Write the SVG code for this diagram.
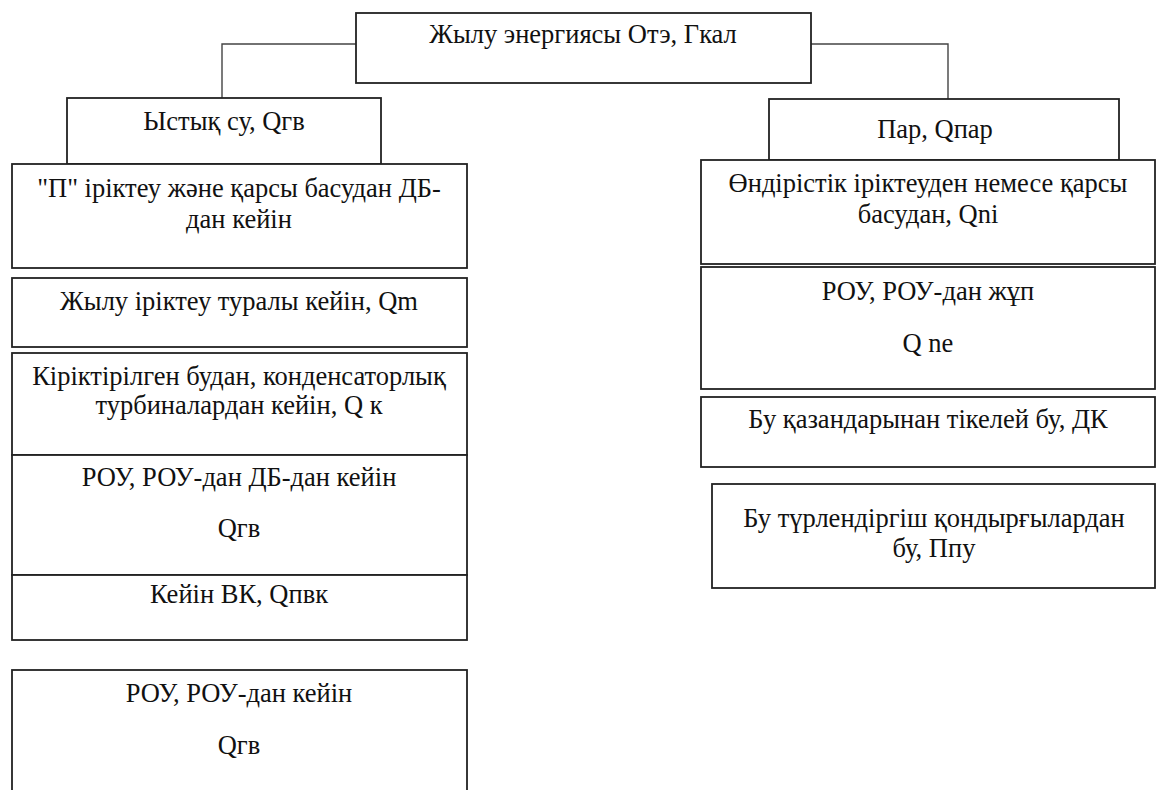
<svg xmlns="http://www.w3.org/2000/svg" width="1156" height="790" viewBox="0 0 1156 790">
<style>
.box{fill:#fff;stroke:#222;stroke-width:1.8}
.t{font-family:"Liberation Serif","Times New Roman",serif;font-size:26.5px;fill:#111;text-anchor:middle}
.c{fill:none;stroke:#444;stroke-width:1.4}
</style>
<rect width="1156" height="790" fill="#fff"/>
<g id="connectors">
<polyline class="c" points="356,44 222,44 222,98"/>
<polyline class="c" points="811,44 948,44 948,99"/>
</g>
<g id="root"><rect class="box" x="356" y="13" width="455" height="70"/><text class="t" x="583" y="43">Жылу энергиясы Отэ, Гкал</text></g>
<g id="hot-water"><rect class="box" x="67" y="98" width="314" height="66"/><text class="t" x="224" y="130">Ыстық су, Qгв</text></g>
<g id="steam"><rect class="box" x="769" y="99" width="350" height="61"/><text class="t" x="935" y="138">Пар, Qпар</text></g>
<g id="hw1"><rect class="box" x="12" y="164" width="455" height="104"/><text class="t" x="239" y="197">"П" іріктеу және қарсы басудан ДБ-</text><text class="t" x="239" y="228">дан кейін</text></g>
<g id="hw2"><rect class="box" x="12" y="278" width="455" height="69"/><text class="t" x="239" y="310">Жылу іріктеу туралы кейін, Qm</text></g>
<g id="hw3"><rect class="box" x="12" y="353" width="455" height="102"/><text class="t" x="239" y="385">Кіріктірілген будан, конденсаторлық</text><text class="t" x="239" y="414">турбиналардан кейін, Q к</text></g>
<g id="hw4"><rect class="box" x="12" y="455" width="455" height="120"/><text class="t" x="239" y="486">РОУ, РОУ-дан ДБ-дан кейін</text><text class="t" x="239" y="537">Qгв</text></g>
<g id="hw5"><rect class="box" x="12" y="575" width="455" height="65"/><text class="t" x="239" y="603">Кейін ВК, Qпвк</text></g>
<g id="hw6"><rect class="box" x="12" y="670" width="455" height="130"/><text class="t" x="239" y="702">РОУ, РОУ-дан кейін</text><text class="t" x="239" y="754">Qгв</text></g>
<g id="st1"><rect class="box" x="701" y="160" width="454" height="104"/><text class="t" x="928" y="192">Өндірістік іріктеуден немесе қарсы</text><text class="t" x="928" y="223">басудан, Qni</text></g>
<g id="st2"><rect class="box" x="701" y="267" width="454" height="122"/><text class="t" x="928" y="300">РОУ, РОУ-дан жұп</text><text class="t" x="928" y="352">Q ne</text></g>
<g id="st3"><rect class="box" x="701" y="397" width="454" height="70"/><text class="t" x="928" y="428">Бу қазандарынан тікелей бу, ДК</text></g>
<g id="st4"><rect class="box" x="712" y="484" width="443" height="104"/><text class="t" x="934" y="527">Бу түрлендіргіш қондырғылардан</text><text class="t" x="934" y="557">бу, Ппу</text></g>
</svg>
